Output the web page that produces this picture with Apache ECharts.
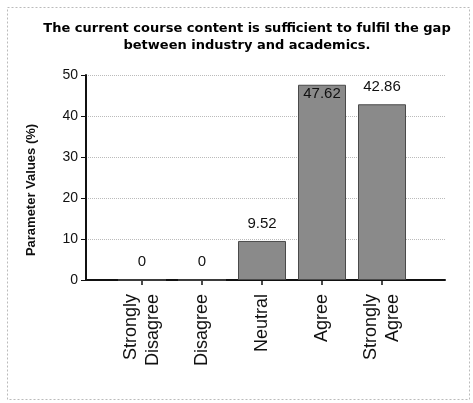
<!DOCTYPE html>
<html>
<head>
<meta charset="utf-8">
<script src="https://cdn.jsdelivr.net/npm/echarts@6/dist/echarts.min.js"></script>
<style>html,body{margin:0;padding:0;background:#fff}#c{width:473px;height:403px}</style>
</head>
<body>
<div id="c"></div>
<script>
var titleText = 'The current course content is sufficient to fulfil the gap\nbetween industry and academics.';
var categories = ['Strongly\nDisagree', 'Disagree', 'Neutral', 'Agree', 'Strongly\nAgree'];
var values = [0, 0, 9.52, 47.62, 42.86];
var yTicks = [0, 10, 20, 30, 40, 50];
var yName = 'Parameter Values (%)';

var chart = echarts.init(document.getElementById('c'));
var barData = values.map(function (v) {
  return v > 45 ? { value: v, label: { position: 'insideTop', distance: 2 } } : v;
});
chart.setOption({
  backgroundColor: '#fff',
  animation: false,
  title: {
    text: titleText,
    left: 242, textAlign: 'center', top: 15,
    textStyle: { fontFamily: 'DejaVu Sans', fontWeight: 'bold', fontSize: 13, lineHeight: 17, color: '#000' }
  },
  graphic: [{
    type: 'rect', left: 5, top: 5, shape: { width: 462, height: 392 },
    style: { fill: 'none', stroke: '#bbb', lineWidth: 1, lineDash: [2, 2] }, silent: true
  }],
  grid: [
    { left: 86, right: 28, top: 75, bottom: 123 },
    { left: 112, right: 61, top: 75, bottom: 123 }
  ],
  xAxis: [
    { type: 'value', gridIndex: 0, min: 0, max: 1, axisLine: { show: true, lineStyle: { color: '#111', width: 2 } },
      axisTick: { show: false }, axisLabel: { show: false }, splitLine: { show: false } },
    { type: 'category', gridIndex: 1, data: categories,
      axisLine: { show: false },
      axisTick: { show: true, alignWithLabel: true, length: 5, lineStyle: { color: '#111', width: 1.5 } },
      axisLabel: { rotate: 90, margin: 14, fontFamily: 'Liberation Sans', fontSize: 18, lineHeight: 22, color: '#111' } }
  ],
  yAxis: [
    { type: 'value', gridIndex: 0, min: yTicks[0], max: yTicks[yTicks.length - 1], interval: 10,
      name: yName, nameLocation: 'middle', nameGap: 48, nameRotate: 90,
      nameTextStyle: { fontFamily: 'Liberation Sans', fontWeight: 'bold', fontSize: 13, color: '#111', padding: [0, 0, 0, -25] },
      axisLine: { show: true, lineStyle: { color: '#111', width: 2 } },
      axisTick: { show: true, length: 5, lineStyle: { color: '#111', width: 1 } },
      axisLabel: { margin: 8, fontFamily: 'Liberation Sans', fontSize: 14, color: '#111' },
      splitLine: { show: true, lineStyle: { color: '#bbb', type: 'dotted', width: 1 } } },
    { type: 'value', gridIndex: 1, min: 0, max: 50, show: false, splitLine: { show: false } }
  ],
  series: [{
    type: 'bar', xAxisIndex: 1, yAxisIndex: 1, data: barData, barWidth: 48,
    itemStyle: { color: '#8a8a8a', borderColor: '#4a4a4a', borderWidth: 1 },
    label: { show: true, position: 'top', distance: 10, fontFamily: 'Liberation Sans', fontSize: 15, color: '#111' }
  }]
});
</script>
</body>
</html>
